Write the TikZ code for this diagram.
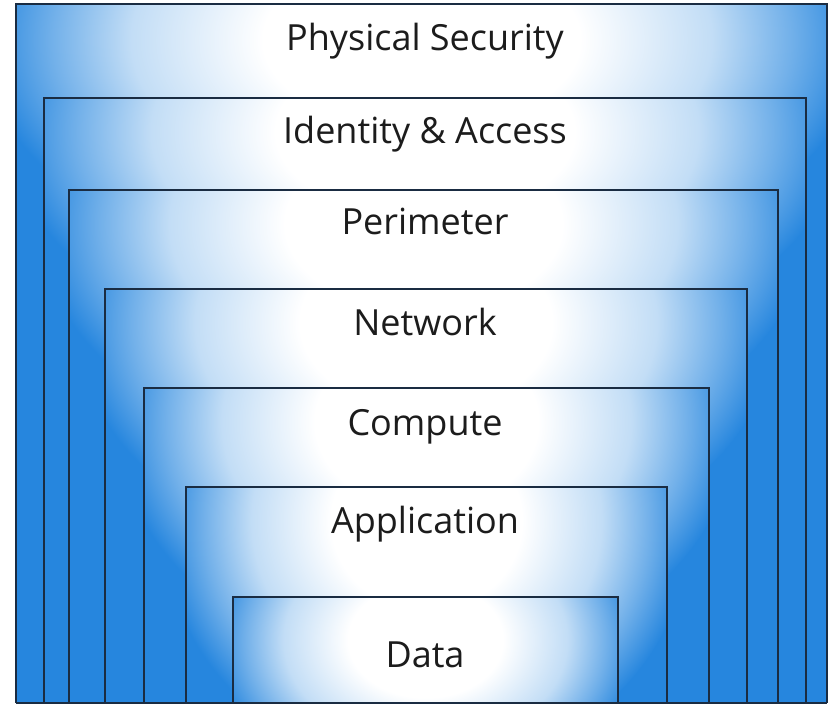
\documentclass[tikz,border=0pt]{standalone}
\usepackage{fontspec}
\setmainfont{Open Sans}
\definecolor{layerblue}{RGB}{38,134,222}
\definecolor{lineblue}{RGB}{26,44,66}
\definecolor{textgray}{RGB}{28,28,28}
\colorlet{glowA}{layerblue!28!white}
\colorlet{glowB}{layerblue!65!white}
\pgfdeclareradialshading{glow}{\pgfpoint{0bp}{0bp}}{color(0bp)=(white); color(9bp)=(white); color(16.5bp)=(glowA); color(21bp)=(glowB); color(25bp)=(layerblue); color(50bp)=(layerblue)}
\tikzset{
  layerline/.style={draw=lineblue, line width=1.6pt},
  layerlabel/.style={font=\fontsize{36}{42}\selectfont, text=textgray, anchor=base, inner sep=0pt},
}
\newcommand{\layerbox}[6]{% xl, yt, xr, cy, rx, ry
  \begin{scope}
    \clip (#1,#2) rectangle (#3,703);
    \fill[layerblue] (#1,#2) rectangle (#3,703);
    \shade[shading=glow] ({(#1+#3)/2},#4) ellipse ({#5 pt} and {#6 pt});
  \end{scope}
}
\begin{document}
\begin{tikzpicture}[x=1pt,y=-1pt]
\useasboundingbox (0,0) rectangle (830,705);
% fills
\layerbox{16}{4}{827}{40}{440}{250}
\layerbox{44}{98}{806}{132}{415}{240}
\layerbox{69}{190}{778}{224}{385}{245}
\layerbox{105}{289}{747}{323}{350}{245}
\layerbox{144}{388}{709}{422}{310}{245}
\layerbox{186}{487}{667}{521}{265}{250}
\layerbox{233}{597}{618}{640}{215}{160}
% borders
\draw[layerline] (16,703) -- (16,4) -- (827,4) -- (827,703);
\draw[layerline] (44,703) -- (44,98) -- (806,98) -- (806,703);
\draw[layerline] (69,703) -- (69,190) -- (778,190) -- (778,703);
\draw[layerline] (105,703) -- (105,289) -- (747,289) -- (747,703);
\draw[layerline] (144,703) -- (144,388) -- (709,388) -- (709,703);
\draw[layerline] (186,703) -- (186,487) -- (667,487) -- (667,703);
\draw[layerline] (233,703) -- (233,597) -- (618,597) -- (618,703);
\draw[layerline] (16,703) -- (827,703);
% labels
\node[layerlabel] (physical) at (425,50) {Physical Security};
\node[layerlabel] (identity) at (425,143) {Identity \& Access};
\node[layerlabel] (perimeter) at (425,234) {Perimeter};
\node[layerlabel] (network) at (425,335) {Network};
\node[layerlabel] (compute) at (425,435) {Compute};
\node[layerlabel] (application) at (425,533) {Application};
\node[layerlabel] (data) at (425,667) {Data};
\end{tikzpicture}
\end{document}
